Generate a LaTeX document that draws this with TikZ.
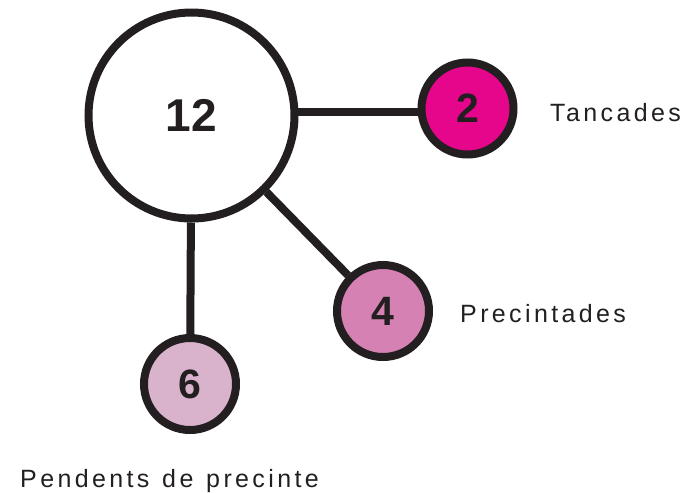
\documentclass[tikz,border=0pt]{standalone}
\usepackage{fontspec}
\setmainfont{Liberation Sans}
\usetikzlibrary{backgrounds}
\definecolor{ink}{HTML}{231F20}
\definecolor{cmag}{HTML}{E6068C}
\definecolor{cpink}{HTML}{D581B3}
\definecolor{clight}{HTML}{D9B3CC}
\tikzset{
  bubble/.style={circle, draw=ink, line width=8pt, inner sep=0pt, text=ink, font=\fontsize{41}{41}\selectfont\bfseries},
  bigbubble/.style={bubble, minimum size=206pt, fill=white, font=\fontsize{46}{46}\selectfont\bfseries},
  smallbubble/.style={bubble, minimum size=92pt},
  conn/.style={draw=ink, line width=8pt},
  lbl/.style={anchor=base west, inner sep=0pt, text=ink, font=\fontsize{25}{25}\selectfont\addfontfeature{LetterSpace=13.5}}
}
\begin{document}
\begin{tikzpicture}[x=1pt,y=-1pt]
\useasboundingbox (0,0) rectangle (686,493);
\node[bigbubble] (big) at (191.5,115.5) {12};
\node[smallbubble, fill=cmag] (two) at (467.5,108.5) {2};
\node[smallbubble, fill=cpink] (four) at (383,311) {4};
\node[smallbubble, fill=clight] (six) at (190,384) {6};
\node[lbl] (t1) at (550,121.7) {Tancades};
\node[lbl] (t2) at (460,322.3) {Precintades};
\node[lbl] (t3) at (20,487.3) {Pendents\hspace{2.5pt} de\hspace{2.5pt} precinte};
\begin{scope}[on background layer]
\draw[conn] (big.2) -- (two.west |- big.2);
\draw[conn] (big) -- (four);
\draw[conn] (big) -- (six);
\end{scope}
\end{tikzpicture}
\end{document}
